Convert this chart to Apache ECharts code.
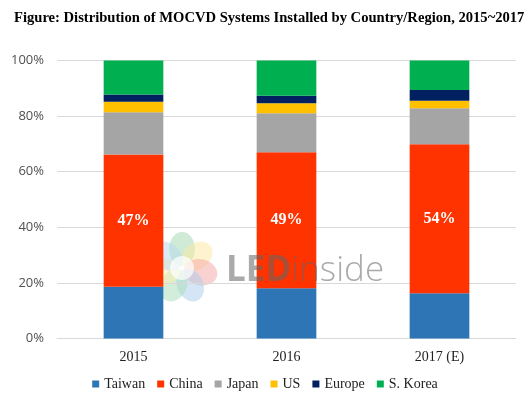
<!DOCTYPE html>
<html>
<head>
<meta charset="utf-8">
<script src="https://cdn.jsdelivr.net/npm/echarts@6/dist/echarts.min.js"></script>
<style>html,body{margin:0;padding:0;background:#fff;}#c{width:530px;height:405px;}</style>
</head>
<body>
<div id="c"></div>
<script>
var categories = ['2015', '2016', '2017 (E)'];
var taiwan  = [18.6, 18.1, 16.3];
var china   = [47.6, 48.9, 53.6];
var japan   = [15.2, 14.0, 12.9];
var us      = [3.8, 3.6, 2.7];
var europe  = [2.6, 2.7, 3.9];
var skorea  = [12.2, 12.7, 10.6];
var chinaLabels = ['47%', '49%', '54%'];
var yTicks = ['0%', '20%', '40%', '60%', '80%', '100%'];

var serif = '"Liberation Serif", "DejaVu Serif", serif';
var sans = '"Open Sans", "Liberation Sans", sans-serif';

function mk(name, data, color, label) {
  var s = {
    name: name, type: 'bar', stack: 'total', data: data, barWidth: '39%',
    itemStyle: { color: color }, emphasis: { disabled: true }
  };
  if (label) {
    s.label = {
      show: true, position: 'inside', color: '#fff', fontFamily: serif,
      fontWeight: 'bold', fontSize: 16,
      formatter: function (p) { return chinaLabels[p.dataIndex]; }
    };
  }
  return s;
}

var petalColors = ['#9fd8b0', '#fbe9a0', '#f3a4a4', '#a9cdec', '#a6dcb5', '#fdf0a8', '#b5d8f0'];
var petals = [];
for (var i = 0; i < 7; i++) {
  petals.push({
    type: 'ellipse', rotation: -i * 2 * Math.PI / 7,
    shape: { cx: 0, cy: -19, rx: 13, ry: 17 },
    style: { fill: petalColors[i], opacity: 0.5 }
  });
}
petals.push({ type: 'circle', shape: { cx: 0, cy: 0, r: 12 }, style: { fill: 'rgba(255,255,255,0.7)' } });

var chart = echarts.init(document.getElementById('c'));
chart.setOption({
  animation: false,
  backgroundColor: '#fff',
  title: {
    text: 'Figure: Distribution of MOCVD Systems Installed by Country/Region, 2015~2017',
    left: 9, top: 6,
    textStyle: { fontFamily: serif, fontWeight: 'bold', fontSize: 14.6, color: '#000' }
  },
  grid: { left: 57, right: 14, top: 60.5, bottom: 66.5, containLabel: false },
  xAxis: {
    type: 'category', data: categories,
    axisLine: { show: true, lineStyle: { color: '#d9d9d9' } },
    axisTick: { show: false },
    axisLabel: { fontFamily: serif, fontSize: 14, color: '#222', margin: 12 }
  },
  yAxis: {
    type: 'value', min: 0, max: 100, interval: 20,
    axisLine: { show: false }, axisTick: { show: false },
    splitLine: { lineStyle: { color: '#d9d9d9' } },
    axisLabel: {
      fontFamily: sans, fontSize: 13, color: '#505050', margin: 13,
      formatter: function (v) { return yTicks[v / 20]; }
    }
  },
  legend: {
    bottom: 9, left: 'center', itemWidth: 7, itemHeight: 7, itemGap: 12,
    icon: 'rect',
    textStyle: { fontFamily: serif, fontSize: 14, color: '#222' },
    data: ['Taiwan', 'China', 'Japan', 'US', 'Europe', 'S. Korea']
  },
  series: [
    mk('Taiwan', taiwan, '#2E75B6'),
    mk('China', china, '#FF3300', true),
    mk('Japan', japan, '#A5A5A5'),
    mk('US', us, '#FFC000'),
    mk('Europe', europe, '#002060'),
    mk('S. Korea', skorea, '#00B050')
  ],
  graphic: [
    { type: 'group', x: 182, y: 268, z: 100, children: petals },
    {
      type: 'text', x: 226, y: 254, z: 100,
      style: {
        text: '{b|LED}{t|inside}',
        rich: {
          b: { fontFamily: sans, fontWeight: 'bold', fontSize: 35, fill: 'rgba(100,100,100,0.55)' },
          t: { fontFamily: sans, fontWeight: 300, fontSize: 35, fill: 'rgba(100,100,100,0.55)' }
        }
      }
    }
  ]
});
</script>
</body>
</html>
